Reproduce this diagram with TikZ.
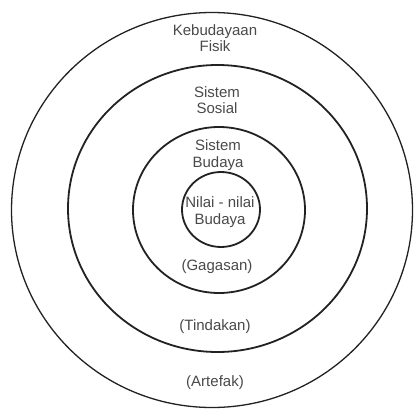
\documentclass[tikz,border=0pt]{standalone}
\usepackage{fontspec}
\setmainfont{Liberation Sans}
\definecolor{ink}{HTML}{222222}
\definecolor{txt}{HTML}{4A4A4A}
\begin{document}
\begin{tikzpicture}[x=1pt,y=-1pt,
  ring/.style={draw=ink,line width=1.8pt},
  outerring/.style={draw=ink,line width=1.3pt},
  lbl/.style={text=txt,font=\fontsize{15}{16.5}\selectfont,align=center,inner sep=0pt}]
\useasboundingbox[fill=white] (0,0) rectangle (414,409);
\draw[outerring] (212,210) ellipse [x radius=200.5, y radius=197.5];
\draw[ring] (217.5,208.5) ellipse [x radius=149.5, y radius=143.5];
\draw[ring] (219,210) ellipse [x radius=86, y radius=83];
\draw[ring] (221,209.5) ellipse [x radius=39, y radius=37.5];
\node[lbl] (kf) at (215,38) {Kebudayaan\\Fisik};
\node[lbl] (ss) at (217,100) {Sistem\\Sosial};
\node[lbl] (sb) at (218,155) {Sistem\\Budaya};
\node[lbl] (nb) at (220,212) {Nilai - nilai\\Budaya};
\node[lbl] (ga) at (217,267) {(Gagasan)};
\node[lbl] (ti) at (215,327) {(Tindakan)};
\node[lbl] (ar) at (215,383) {(Artefak)};
\end{tikzpicture}
\end{document}
